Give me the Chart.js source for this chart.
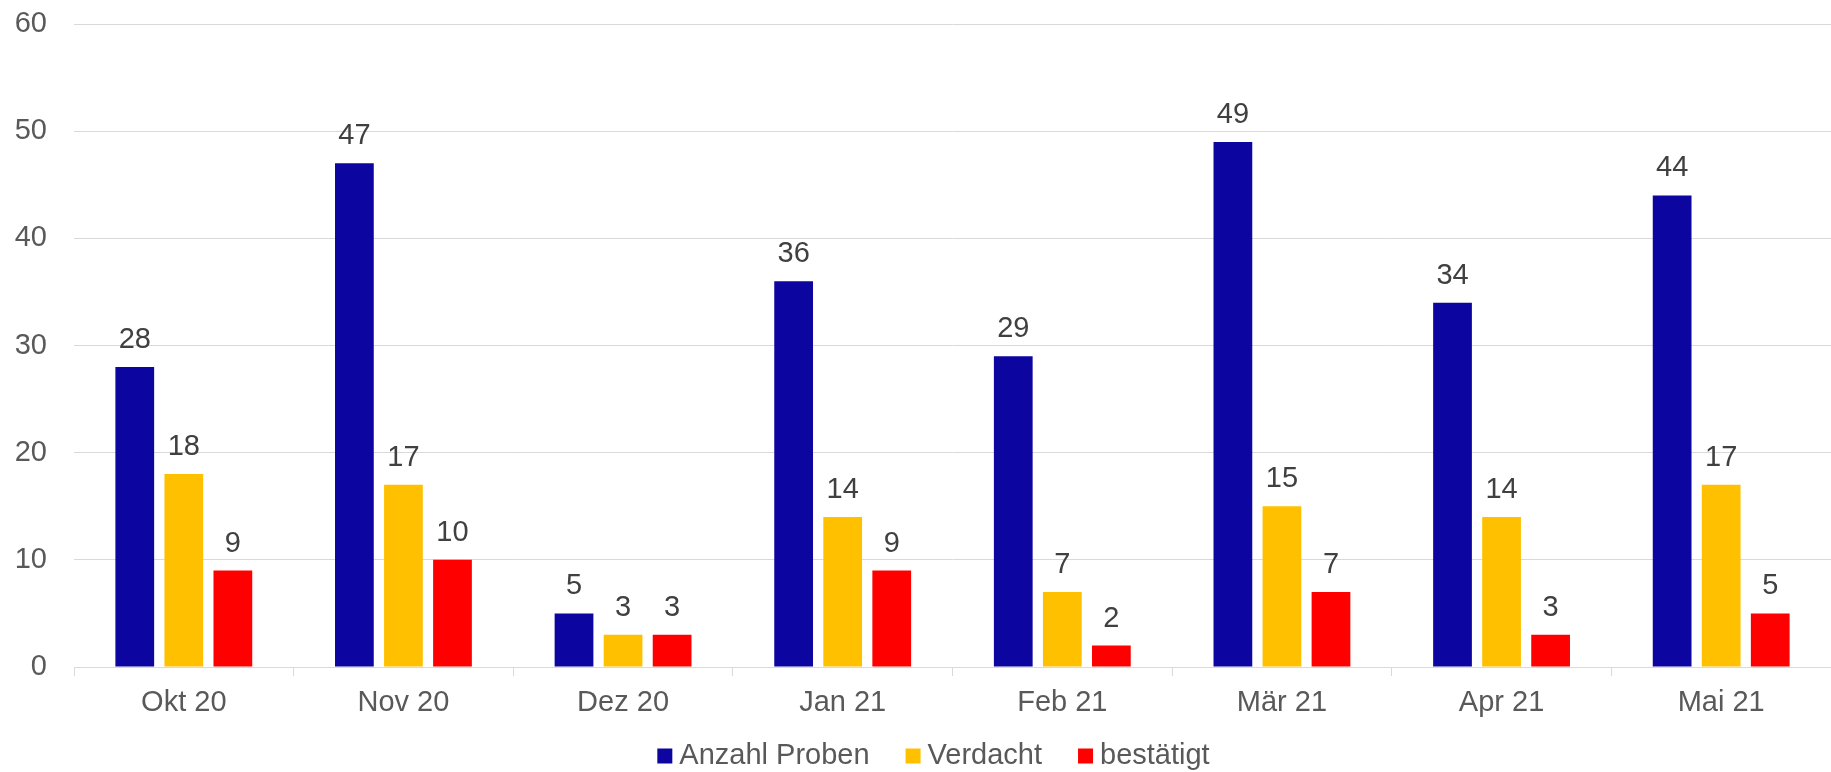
<!DOCTYPE html>
<html>
<head>
<meta charset="utf-8">
<script src="https://cdn.jsdelivr.net/npm/chart.js@4"></script>
<style>
  html, body { margin: 0; padding: 0; background: #fff; }
  #wrap { width: 1831px; height: 772px; }
</style>
</head>
<body>
<div id="wrap"><canvas id="chart"></canvas></div>
<script>
const months = ['Okt 20', 'Nov 20', 'Dez 20', 'Jan 21', 'Feb 21', 'Mär 21', 'Apr 21', 'Mai 21'];
const proben = [28, 47, 5, 36, 29, 49, 34, 44];
const verdacht = [18, 17, 3, 14, 7, 15, 14, 17];
const bestaetigt = [9, 10, 3, 9, 2, 7, 3, 5];

const fontFamily = '"Liberation Sans", Arial, sans-serif';
const textColor = '#595959';

// value labels above each bar
const valueLabels = {
    id: 'valueLabels',
    afterDatasetsDraw(chart) {
        const ctx = chart.ctx;
        ctx.save();
        ctx.font = `29px ${fontFamily}`;
        ctx.fillStyle = '#404040';
        ctx.textAlign = 'center';
        ctx.textBaseline = 'middle';
        chart.data.datasets.forEach((ds, i) => {
            chart.getDatasetMeta(i).data.forEach((bar, j) => {
                ctx.fillText(String(ds.data[j]), bar.x, bar.y - 27);
            });
        });
        ctx.restore();
    },
};

// legend drawn by hand so box/text spacing matches the original
const bottomLegend = {
    id: 'bottomLegend',
    afterDraw(chart) {
        const ctx = chart.ctx;
        const box = 15, gap = 7, sep = 36, y = 756;
        ctx.save();
        ctx.font = `29px ${fontFamily}`;
        ctx.textBaseline = 'middle';
        const items = chart.data.datasets.map((ds) => ({
            text: ds.label,
            color: ds.backgroundColor,
            w: ctx.measureText(ds.label).width,
        }));
        const total = items.reduce((s, it) => s + box + gap + it.w, 0) + sep * (items.length - 1);
        let x = (chart.width - total) / 2 + 18;
        items.forEach((it) => {
            ctx.fillStyle = it.color;
            ctx.fillRect(x, y - box / 2, box, box);
            x += box + gap;
            ctx.fillStyle = textColor;
            ctx.fillText(it.text, x, y);
            x += it.w + sep;
        });
        ctx.restore();
    },
};

const barStyle = { barPercentage: 0.79, categoryPercentage: 0.67 };

new Chart(document.getElementById('chart'), {
    type: 'bar',
    data: {
        labels: months,
        datasets: [
            { label: 'Anzahl Proben', data: proben, backgroundColor: '#0d05a0', ...barStyle },
            { label: 'Verdacht', data: verdacht, backgroundColor: '#ffc000', ...barStyle },
            { label: 'bestätigt', data: bestaetigt, backgroundColor: '#ff0000', ...barStyle },
        ],
    },
    options: {
        responsive: true,
        maintainAspectRatio: false,
        animation: false,
        layout: { padding: { top: 24, right: 0, left: 0, bottom: 45 } },
        scales: {
            x: {
                afterFit: (scale) => { scale.height = 60; },
                border: { color: '#d9d9d9', width: 1 },
                grid: { drawOnChartArea: false, offset: true, tickLength: 9, color: '#d9d9d9' },
                ticks: { color: textColor, font: { family: fontFamily, size: 29 }, padding: 10 },
            },
            y: {
                min: 0,
                max: 60,
                afterFit: (scale) => { scale.width = 74; },
                border: { display: false },
                // invisible ticks keep the labels away from the plot without adding top padding
                grid: { color: '#d9d9d9', drawTicks: true, tickLength: 27, tickColor: 'rgba(0,0,0,0)' },
                ticks: { stepSize: 10, color: textColor, font: { family: fontFamily, size: 29 }, padding: 0 },
            },
        },
        plugins: {
            legend: { display: false },
            tooltip: { enabled: false },
        },
    },
    plugins: [valueLabels, bottomLegend],
});
</script>
</body>
</html>
